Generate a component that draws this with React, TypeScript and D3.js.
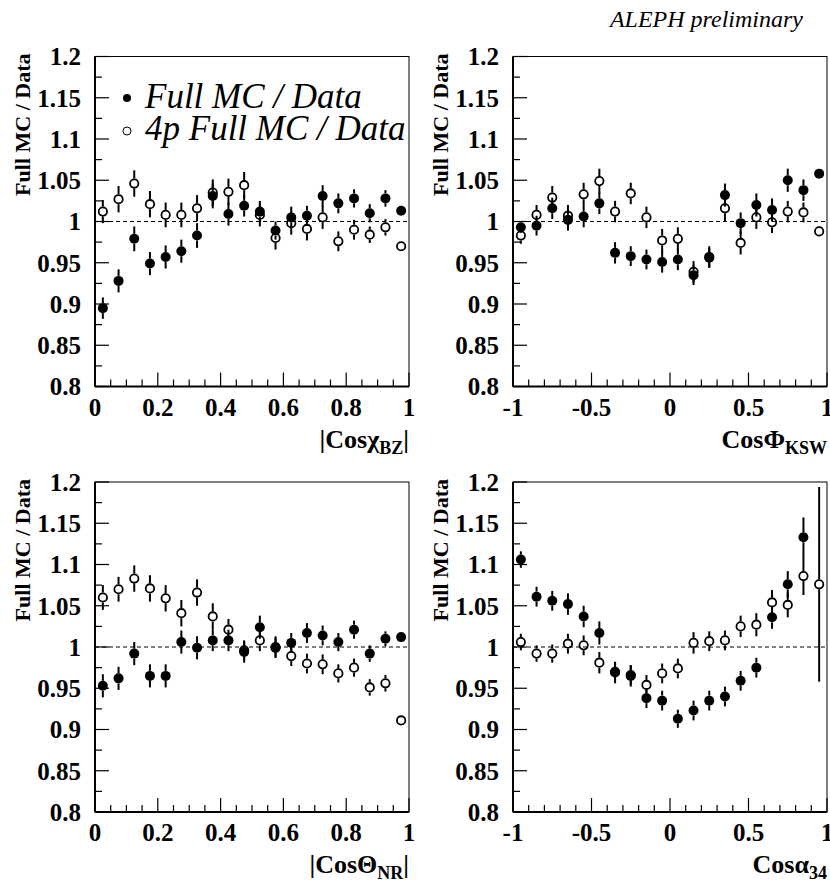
import React from 'react';
import * as d3 from 'd3';

// bin centres
const binsAbs = [0.025, 0.075, 0.125, 0.175, 0.225, 0.275, 0.325, 0.375, 0.425, 0.475, 0.525, 0.575, 0.625, 0.675, 0.725, 0.775, 0.825, 0.875, 0.925, 0.975];
const binsSym = [-0.95, -0.85, -0.75, -0.65, -0.55, -0.45, -0.35, -0.25, -0.15, -0.05, 0.05, 0.15, 0.25, 0.35, 0.45, 0.55, 0.65, 0.75, 0.85, 0.95];

// |Cos chi_BZ|
const chiFull = [0.895, 0.928, 0.979, 0.949, 0.957, 0.964, 0.983, 1.031, 1.009, 1.019, 1.012, 0.989, 1.005, 1.007, 1.031, 1.022, 1.028, 1.010, 1.028, 1.013];
const chiFullErr = [0.013, 0.014, 0.015, 0.014, 0.014, 0.014, 0.015, 0.015, 0.014, 0.013, 0.013, 0.011, 0.013, 0.012, 0.013, 0.012, 0.011, 0.011, 0.010, 0.004];
const chi4p = [1.012, 1.027, 1.046, 1.021, 1.008, 1.008, 1.016, 1.035, 1.036, 1.044, 1.008, 0.980, 0.998, 0.991, 1.005, 0.976, 0.990, 0.984, 0.993, 0.970];
const chi4pErr = [0.014, 0.016, 0.016, 0.016, 0.015, 0.015, 0.016, 0.016, 0.016, 0.016, 0.014, 0.014, 0.014, 0.014, 0.014, 0.012, 0.012, 0.010, 0.010, 0.004];

// Cos Phi_KSW
const phiFull = [0.993, 0.995, 1.016, 1.002, 1.006, 1.022, 0.962, 0.958, 0.954, 0.951, 0.954, 0.935, 0.956, 1.032, 0.998, 1.020, 1.014, 1.050, 1.038, 1.058];
const phiFullErr = [0.007, 0.012, 0.013, 0.013, 0.013, 0.013, 0.013, 0.012, 0.012, 0.013, 0.013, 0.012, 0.012, 0.014, 0.013, 0.014, 0.014, 0.014, 0.013, 0.006];
const phi4p = [0.983, 1.008, 1.029, 1.007, 1.033, 1.049, 1.012, 1.034, 1.005, 0.977, 0.979, 0.939, 0.957, 1.016, 0.974, 1.005, 0.999, 1.012, 1.011, 0.988];
const phi4pErr = [0.010, 0.012, 0.014, 0.013, 0.014, 0.015, 0.013, 0.013, 0.013, 0.014, 0.014, 0.013, 0.013, 0.016, 0.014, 0.014, 0.013, 0.013, 0.012, 0.005];

// |Cos Theta_NR|
const thetaFull = [0.953, 0.962, 0.992, 0.965, 0.965, 1.006, 0.999, 1.008, 1.008, 0.994, 1.024, 1.000, 1.005, 1.017, 1.014, 1.006, 1.021, 0.992, 1.010, 1.012];
const thetaFullErr = [0.014, 0.014, 0.014, 0.014, 0.014, 0.014, 0.014, 0.013, 0.013, 0.013, 0.014, 0.013, 0.012, 0.012, 0.012, 0.011, 0.011, 0.010, 0.009, 0.006];
const theta4p = [1.060, 1.070, 1.083, 1.071, 1.059, 1.041, 1.066, 1.037, 1.021, 0.996, 1.008, 0.999, 0.989, 0.980, 0.979, 0.968, 0.975, 0.951, 0.956, 0.911];
const theta4pErr = [0.015, 0.015, 0.016, 0.016, 0.016, 0.016, 0.016, 0.016, 0.013, 0.012, 0.013, 0.012, 0.012, 0.012, 0.012, 0.011, 0.011, 0.010, 0.010, 0.005];

// Cos alpha_34
const alphaFull = [1.106, 1.061, 1.056, 1.052, 1.037, 1.017, 0.969, 0.965, 0.938, 0.935, 0.913, 0.923, 0.935, 0.940, 0.959, 0.975, 1.036, 1.076, 1.133, null];
const alphaFullErr = [0.010, 0.012, 0.012, 0.013, 0.013, 0.014, 0.013, 0.013, 0.012, 0.012, 0.011, 0.012, 0.012, 0.012, 0.012, 0.012, 0.014, 0.016, 0.024, null];
const alpha4p = [1.006, 0.992, 0.992, 1.004, 1.002, 0.981, 0.970, 0.966, 0.954, 0.968, 0.974, 1.005, 1.007, 1.008, 1.025, 1.027, 1.054, 1.051, 1.086, 1.076];
const alpha4pErr = [0.010, 0.010, 0.011, 0.012, 0.012, 0.013, 0.012, 0.012, 0.012, 0.012, 0.012, 0.013, 0.012, 0.012, 0.013, 0.014, 0.015, 0.015, 0.023, 0.118];

const yTicks = [0.8, 0.85, 0.9, 0.95, 1, 1.05, 1.1, 1.15, 1.2];
const xTicksAbs = [0, 0.2, 0.4, 0.6, 0.8, 1];
const xTicksSym = [-1, -0.5, 0, 0.5, 1];

const FONT = "'Liberation Serif', 'DejaVu Serif', serif";
const W = 314;
const H = 330;

const panels = [
  { left: 95, top: 56.5, bins: binsAbs, dom: [0, 1], ticks: xTicksAbs, minor: 0.05, full: chiFull, fullErr: chiFullErr, p4: chi4p, p4Err: chi4pErr, title: ['|Cos', 'χ', 'BZ', '|'] },
  { left: 513, top: 56.5, bins: binsSym, dom: [-1, 1], ticks: xTicksSym, minor: 0.1, full: phiFull, fullErr: phiFullErr, p4: phi4p, p4Err: phi4pErr, title: ['Cos', 'Φ', 'KSW', ''] },
  { left: 95, top: 482, bins: binsAbs, dom: [0, 1], ticks: xTicksAbs, minor: 0.05, full: thetaFull, fullErr: thetaFullErr, p4: theta4p, p4Err: theta4pErr, title: ['|Cos', 'Θ', 'NR', '|'] },
  { left: 513, top: 482, bins: binsSym, dom: [-1, 1], ticks: xTicksSym, minor: 0.1, full: alphaFull, fullErr: alphaFullErr, p4: alpha4p, p4Err: alpha4pErr, title: ['Cos', 'α', '34', ''] },
];

const R = 5;

function ErrBar({ cx, cy, y0, y1 }) {
  // bar drawn outside the marker only
  const top = Math.min(y0, y1);
  const bot = Math.max(y0, y1);
  return (
    <g stroke="#000" strokeWidth={2}>
      {top < cy - R && <line x1={cx} x2={cx} y1={top} y2={cy - R} />}
      {bot > cy + R && <line x1={cx} x2={cx} y1={cy + R} y2={bot} />}
    </g>
  );
}

function Panel({ p }) {
  const x = d3.scaleLinear().domain(p.dom).range([p.left, p.left + W]);
  const y = d3.scaleLinear().domain([0.8, 1.2]).range([p.top + H, p.top]);
  const clipY = (v) => Math.max(p.top, Math.min(p.top + H, y(v)));
  const minorX = d3.range(p.dom[0], p.dom[1] + 1e-9, p.minor);
  const minorY = d3.range(0.8, 1.2 + 1e-9, 0.025);
  const bottom = p.top + H;
  return (
    <g>
      {/* frame */}
      <rect x={p.left} y={p.top} width={W} height={H} fill="none" stroke="#000" strokeWidth={1} />
      <line x1={p.left} x2={p.left} y1={p.top} y2={bottom} stroke="#000" strokeWidth={2} />
      <line x1={p.left} x2={p.left + W} y1={bottom} y2={bottom} stroke="#000" strokeWidth={2} />
      {/* y ticks */}
      {minorY.map((v, i) => (
        <line key={'my' + i} x1={p.left} x2={p.left + (i % 2 === 0 ? 14 : 7)} y1={y(v)} y2={y(v)} stroke="#000" strokeWidth={1.2} />
      ))}
      {yTicks.map((v) => (
        <text key={'ty' + v} x={p.left - 14} y={y(v)} dy="0.35em" textAnchor="end" fontSize={25} fontWeight="bold">
          {d3.format('')(v)}
        </text>
      ))}
      {/* x ticks */}
      {minorX.map((v, i) => {
        const major = p.ticks.some((t) => Math.abs(t - v) < 1e-6);
        return (
          <line key={'mx' + i} x1={x(v)} x2={x(v)} y1={bottom} y2={bottom - (major ? 14 : 7)} stroke="#000" strokeWidth={1.2} />
        );
      })}
      {p.ticks.map((v) => (
        <text key={'tx' + v} x={x(v)} y={bottom + 29} textAnchor="middle" fontSize={25} fontWeight="bold">
          {d3.format('')(v).replace('−', '-')}
        </text>
      ))}
      {/* reference line */}
      <line x1={p.left} x2={p.left + W} y1={y(1)} y2={y(1)} stroke="#000" strokeWidth={1} strokeDasharray="4,3" />
      {/* 4p full MC / data (open) */}
      {p.bins.map((b, i) => (
        p.p4[i] == null ? null : (
          <g key={'o' + i}>
            <ErrBar cx={x(b)} cy={y(p.p4[i])} y0={clipY(p.p4[i] - p.p4Err[i])} y1={clipY(p.p4[i] + p.p4Err[i])} />
            <circle cx={x(b)} cy={y(p.p4[i])} r={R - 0.8} fill="none" stroke="#000" strokeWidth={1.8} />
          </g>
        )
      ))}
      {/* full MC / data (filled) */}
      {p.bins.map((b, i) => (
        p.full[i] == null ? null : (
          <g key={'f' + i}>
            <ErrBar cx={x(b)} cy={y(p.full[i])} y0={clipY(p.full[i] - p.fullErr[i])} y1={clipY(p.full[i] + p.fullErr[i])} />
            <circle cx={x(b)} cy={y(p.full[i])} r={R} fill="#000" />
          </g>
        )
      ))}
      {/* axis titles */}
      <text x={p.left + W} y={bottom + 61} textAnchor="end" fontSize={26} fontWeight="bold">
        <tspan>{p.title[0]}</tspan>
        <tspan>{p.title[1]}</tspan>
        <tspan dy={6} fontSize={18}>{p.title[2]}</tspan>
        <tspan dy={-6}>{p.title[3]}</tspan>
      </text>
      <text
        transform={`translate(${p.left - 73},${p.top - 3}) rotate(-90)`}
        textAnchor="end"
        dy="0.35em"
        fontSize={22}
        fontWeight="bold"
      >
        Full MC / Data
      </text>
    </g>
  );
}

export default function App() {
  return (
    <svg width={830} height={884} style={{ position: 'absolute', left: 0, top: 0, background: '#fff', fontFamily: FONT }}>
      <rect width={830} height={884} fill="#fff" />
      <text x={803} y={27} textAnchor="end" fontStyle="italic" fontSize={24}>
        ALEPH preliminary
      </text>
      {panels.map((p, i) => (
        <Panel key={i} p={p} />
      ))}
      {/* legend */}
      <g fontStyle="italic" fontSize={35}>
        <circle cx={127} cy={98} r={4} fill="#000" />
        <text x={145} y={108}>Full MC / Data</text>
        <circle cx={127} cy={131} r={4} fill="none" stroke="#000" strokeWidth={1} />
        <text x={145} y={140}>4p Full MC / Data</text>
      </g>
    </svg>
  );
}
